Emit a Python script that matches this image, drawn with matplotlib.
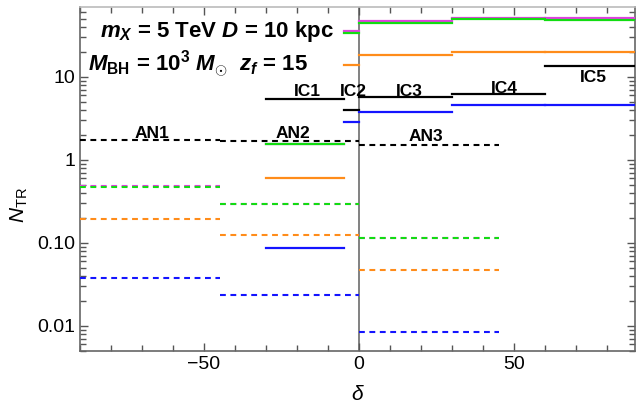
import matplotlib.pyplot as plt
import matplotlib.ticker as mticker

plt.rcParams.update({
    'font.family': ['Liberation Sans', 'DejaVu Sans'],
    'mathtext.fontset': 'custom',
    'mathtext.rm': 'Liberation Sans',
    'mathtext.it': 'Liberation Sans:italic',
    'mathtext.bf': 'Liberation Sans:bold',
    'mathtext.bfit': 'Liberation Sans:italic:bold',
})

# bins in delta
an_bins = [(-90, -45), (-45, 0), (0, 45)]
ic_bins = [(-30, -5), (-5, 0), (0, 30), (30, 60), (60, 90)]

# AN (dashed) values per series
an_black = [1.74, 1.68, 1.51]
an_magenta = [0.478, 0.296, 0.113]
an_green = [0.47, 0.294, 0.113]
an_orange = [0.194, 0.123, 0.0474]
an_blue = [0.038, 0.0235, 0.0084]

# IC (solid) values per series
ic_black = [5.35, 3.95, 5.7, 6.2, 13.6]
ic_magenta = [1.54, 35.6, 46.2, 51.0, 50.3]
ic_green = [1.54, 33.2, 44.5, 48.9, 48.3]
ic_orange = [0.61, 13.7, 18.4, 19.96, 19.8]
ic_blue = [0.086, 2.88, 3.77, 4.53, 4.57]

bin_labels = ['AN1', 'AN2', 'AN3', 'IC1', 'IC2', 'IC3', 'IC4', 'IC5']
label_x = [-66.7, -21.2, 21.6, -16.6, -1.8, 16.2, 46.8, 75.5]
label_y = [1.82, 1.82, 1.70, 5.87, 5.87, 5.87, 6.43, 8.7]

colors = {'black': 'black', 'magenta': '#e040e0', 'green': '#11dd11',
          'orange': '#ff8c1a', 'blue': '#1414ff'}

fig = plt.figure(figsize=(6.36, 4.07), dpi=100)
ax = fig.add_axes([80/636, 1-351/407, 555/636, 344/407])

ax.axvline(0, color='#777777', lw=1.3, zorder=1)

an_series = [('magenta', an_magenta), ('green', an_green), ('black', an_black),
             ('orange', an_orange), ('blue', an_blue)]
ic_series = [('magenta', ic_magenta), ('green', ic_green), ('black', ic_black),
             ('orange', ic_orange), ('blue', ic_blue)]

for name, vals in an_series:
    for (x0, x1), v in zip(an_bins, vals):
        ax.plot([x0, x1], [v, v], color=colors[name], lw=1.5,
                linestyle=(0, (2.8, 2.2)), zorder=3)
for name, vals in ic_series:
    for (x0, x1), v in zip(ic_bins, vals):
        ax.plot([x0, x1], [v, v], color=colors[name], lw=1.6, zorder=3)

for t, x, y in zip(bin_labels, label_x, label_y):
    ax.text(x, y, t, ha='center', va='baseline', fontsize=12.5,
            fontweight='bold', zorder=4)

ax.set_yscale('log')
ax.set_xlim(-90, 89)
ax.set_ylim(0.005, 69)

ax.set_yticks([0.01, 0.1, 1, 10])
ax.yaxis.set_major_formatter(mticker.FixedFormatter(['0.01', '0.10', '1', '10']))
ax.yaxis.set_minor_locator(mticker.LogLocator(base=10, subs=range(2, 10)))
ax.yaxis.set_minor_formatter(mticker.NullFormatter())
ax.set_xticks([-50, 0, 50])
ax.xaxis.set_minor_locator(mticker.MultipleLocator(10))

ax.tick_params(which='both', direction='in', top=True, right=True,
               color='#555555', labelsize=14, width=1)
ax.tick_params(which='major', length=6)
ax.tick_params(which='minor', length=4)
for sp in ax.spines.values():
    sp.set_color('#666666')
    sp.set_linewidth(1.2)
ax.spines['top'].set_color('#bbbbbb')

ax.set_ylabel(r'$N_{\mathrm{TR}}$', fontsize=15)
ax.yaxis.set_label_coords(-0.09, 0.424)
ax.set_xlabel(r'$\delta$', fontsize=15)
ax.xaxis.set_label_coords(0.5, -0.1)

fig.text(100/636, 1-37.5/407,
         r'$\mathbfit{m}_{\mathbfit{X}}$ = 5 TeV $\mathbfit{D}$ = 10 kpc',
         fontsize=16, fontweight='bold', va='baseline', ha='left')
fig.text(88/636, 1-71.5/407,
         r'$\mathbfit{M}_{\mathbf{BH}}$ = 10$^{\mathbf{3}}$ $\mathbfit{M}_{\odot}$  $\mathbfit{z}_{\mathbfit{f}}$ = 15',
         fontsize=16, fontweight='bold', va='baseline', ha='left')

fig.savefig('out.png', dpi=100)
